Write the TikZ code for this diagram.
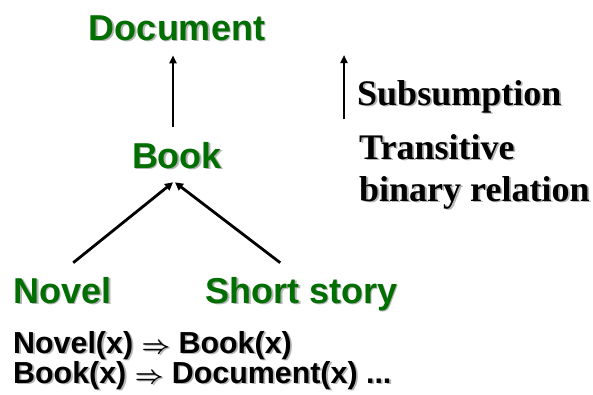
\documentclass[tikz,border=0pt]{standalone}
\usepackage{fontspec}
\setmainfont{Liberation Sans}
\newfontfamily\timesbold{Liberation Serif}[BoldFont={Liberation Serif Bold}]
\usetikzlibrary{arrows.meta}

\definecolor{termgreen}{HTML}{006E00}
\definecolor{shadowgray}{HTML}{B4B4B4}

% text with a soft drop shadow, offset down and to the right
\newcommand\shadowed[1]{\makebox[0pt][l]{\kern1.8pt\raisebox{-1.8pt}{\color{shadowgray}#1}}#1}

\tikzset{
  term/.style={inner sep=0pt, text=termgreen, font=\fontsize{36}{40}\selectfont\bfseries},
  legend/.style={inner sep=0pt, text=black, font=\timesbold\fontsize{36}{42}\selectfont\bfseries, align=left},
  rule/.style={inner sep=0pt, text=black, font=\fontsize{30.4}{32}\selectfont\bfseries\boldmath, anchor=base west},
  isa/.style={draw=black, line width=2pt, -{Triangle[length=8pt,width=7pt]}},
  isathick/.style={draw=black, line width=2.8pt, -{Triangle[length=8pt,width=8pt]}}
}

\begin{document}
\begin{tikzpicture}[x=1pt,y=-1pt]
  \useasboundingbox (0,0) rectangle (593,394);

  % concept hierarchy
  \node[term, anchor=base] (document) at (177,40) {\shadowed{Document}};
  \node[term, anchor=base] (book) at (177,168) {\shadowed{Book}};
  \node[term, anchor=base west] (novel) at (13,303) {\shadowed{Novel}};
  \node[term, anchor=base west] (story) at (205,303) {\shadowed{Short story}};

  \draw[isa] ([xshift=-4pt,yshift=15pt]book.north) -- ([xshift=-4pt,yshift=-13pt]document.south);
  \draw[isathick] ([xshift=11pt,yshift=14pt]novel.north) -- ([xshift=-4pt,yshift=-12pt]book.south);
  \draw[isathick] ([xshift=-21pt,yshift=14pt]story.north) -- ([xshift=-2pt,yshift=-12pt]book.south);

  % legend
  \node[legend, anchor=base west] (subs) at (357,105) {\shadowed{Subsumption}};
  \node[legend, anchor=north west] (trans) at (359,134) {\shadowed{Transitive}\\\shadowed{binary relation}};
  \draw[isa] ([xshift=-13pt,yshift=-14pt]subs.base west) -- ([xshift=-13pt,yshift=50pt]subs.base west);

  % logical reading of the hierarchy
  \node[rule] (rule1) at (13,353) {\shadowed{Novel(x) $\Rightarrow$ Book(x)}};
  \node[rule] (rule2) at (13,383) {\shadowed{Book(x) $\Rightarrow$ Document(x) ...}};
\end{tikzpicture}
\end{document}
